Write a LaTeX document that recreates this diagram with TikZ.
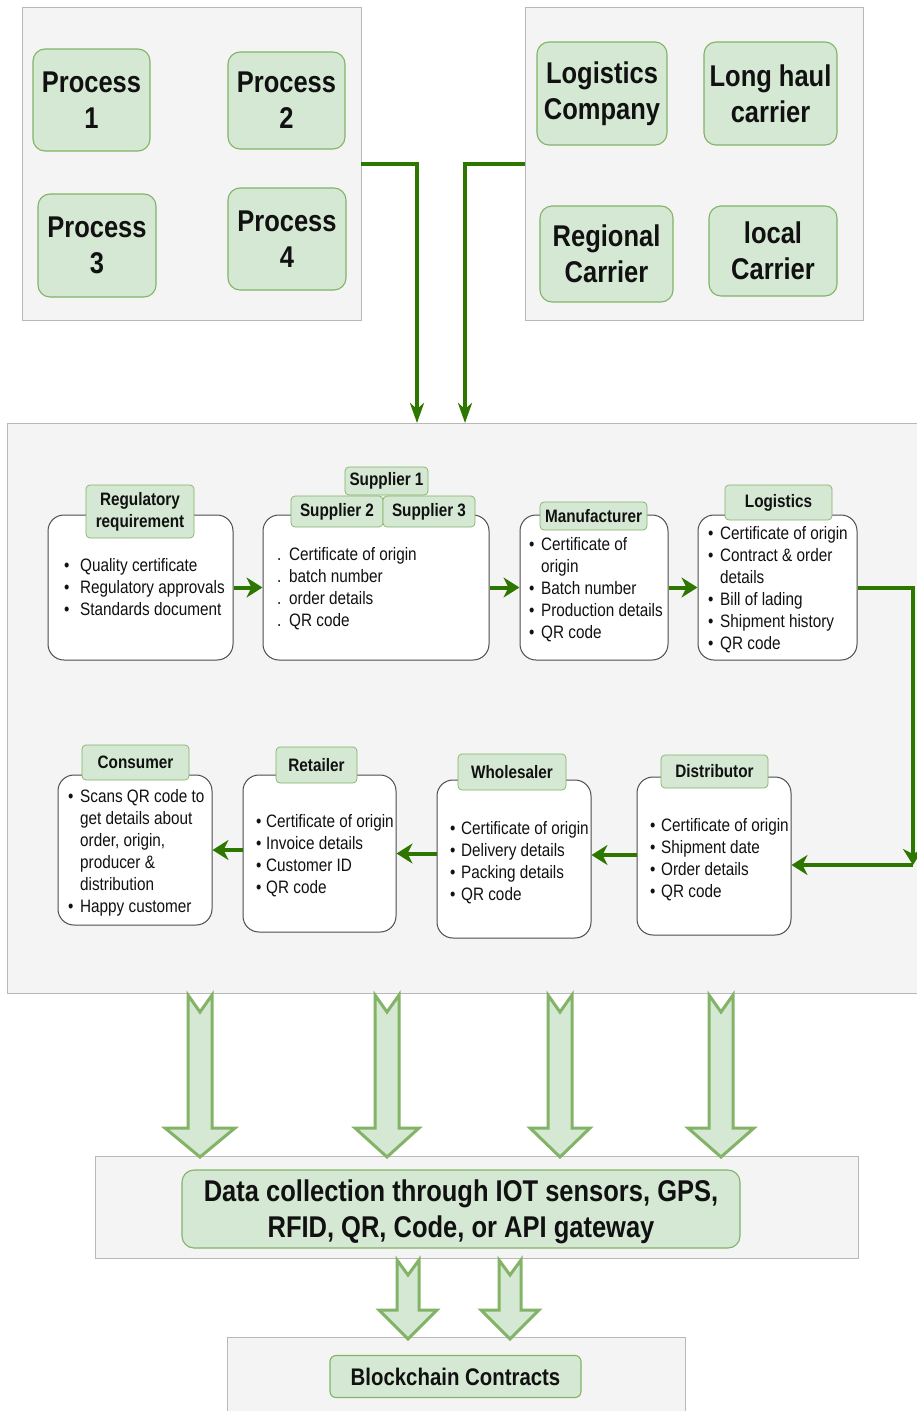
\documentclass[tikz,border=0pt]{standalone}
\usepackage{fontspec}
\setmainfont{Liberation Sans}[FakeStretch=0.85]
\usetikzlibrary{arrows.meta,calc}
\definecolor{gfill}{HTML}{D5E8D4}
\definecolor{gline}{HTML}{82B366}
\definecolor{dgreen}{HTML}{2D7600}
\definecolor{pfill}{HTML}{F4F4F4}
\definecolor{pline}{HTML}{B8B8B8}
\definecolor{txt}{HTML}{111111}
\newcommand{\blist}[2]{\begin{tabular}[t]{@{}l@{\hspace{#1}}l@{}}#2\end{tabular}}
\newcommand{\hollowarrow}[7]{%
  \draw[harrow] (#1-#6,#2) -- (#1,#2+#3) -- (#1+#6,#2) -- (#1+#6,#4) -- (#1+#7,#4)
    -- (#1,#5) -- (#1-#7,#4) -- (#1-#6,#4) -- cycle;}
\begin{document}
\begin{tikzpicture}[x=1pt,y=-1pt,
  panel/.style={draw=pline,fill=pfill,line width=0.8pt,inner sep=0pt},
  gbox/.style={draw=gline,fill=gfill,line width=1.1pt,rounded corners=12pt,align=center,text=txt,inner sep=0pt},
  bigtxt/.style={font=\fontsize{30}{36}\selectfont\bfseries},
  wbox/.style={draw=black!70,fill=white,line width=1pt,rounded corners=16pt,inner sep=0pt},
  tab/.style={draw=gline,fill=gfill,line width=0.7pt,rounded corners=4pt,align=center,inner sep=0pt,font=\fontsize{18}{22}\selectfont\bfseries,text=txt},
  lst/.style={anchor=base west,inner sep=0pt,font=\fontsize{18}{22}\selectfont,text=txt},
  flow/.style={draw=dgreen,line width=4pt,-{Stealth[length=16pt,width=20pt,inset=5pt]}},
  feed/.style={draw=dgreen,line width=4pt,-{Stealth[length=20pt,width=14pt,inset=6pt]}},
  harrow/.style={draw=gline,fill=gfill,line width=3pt,line join=miter},
]
\useasboundingbox (0,0) rectangle (917,1411);

% ---------- top panels ----------
\node[panel,minimum width=339pt,minimum height=313pt] (lp) at (191.5,163.5) {};
\node[panel,minimum width=338pt,minimum height=313pt] (rp) at (694,163.5) {};

\node[gbox,bigtxt,minimum width=117pt,minimum height=102pt] (p1) at (91.5,100) {Process\\1};
\node[gbox,bigtxt,minimum width=117pt,minimum height=97pt] (p2) at (286.5,100.5) {Process\\2};
\node[gbox,bigtxt,minimum width=118pt,minimum height=103pt] (p3) at (97,245.5) {Process\\3};
\node[gbox,bigtxt,minimum width=118pt,minimum height=102pt] (p4) at (287,239) {Process\\4};

\node[gbox,bigtxt,minimum width=130pt,minimum height=103pt,text depth=5pt] (lc) at (602,93.5) {Logistics\\Company};
\node[gbox,bigtxt,minimum width=133pt,minimum height=103pt] (lh) at (770.5,93.5) {Long haul\\carrier};
\node[gbox,bigtxt,minimum width=133pt,minimum height=96pt] (rc) at (606.5,254) {Regional\\Carrier};
\node[gbox,bigtxt,minimum width=128pt,minimum height=90pt] (lcc) at (773,251) {local\\Carrier};

% ---------- middle panel ----------
\node[panel,minimum width=914pt,minimum height=570pt] (mid) at (464,708) {};
\coordinate (c1) at (417,423);
\coordinate (c2) at (465,423);
\draw[feed] (lp.east) -| (c1);
\draw[feed] (rp.west) -| (c2);

% row 1 boxes
\node[wbox,minimum width=185pt,minimum height=145pt] (reg) at (140.5,587.5) {};
\node[wbox,minimum width=226pt,minimum height=145pt] (sup) at (376,587.5) {};
\node[wbox,minimum width=148pt,minimum height=145pt] (man) at (594,587.5) {};
\node[wbox,minimum width=159pt,minimum height=145pt] (log) at (777.5,587.5) {};

\node[tab,minimum width=108pt,minimum height=53pt] (reglab) at (140,511.5) {Regulatory\\requirement};
\node[tab,minimum width=83pt,minimum height=28pt] (sup1) at (386.5,481) {Supplier 1};
\node[tab,minimum width=92pt,minimum height=31pt] (sup2) at (337,511.5) {Supplier 2};
\node[tab,minimum width=92pt,minimum height=31pt] (sup3) at (429,511.5) {Supplier 3};
\node[tab,minimum width=107pt,minimum height=28pt] (manlab) at (593.5,516) {Manufacturer};
\node[tab,minimum width=107pt,minimum height=35pt] (loglab) at (778.5,502.5) {Logistics};

\node[lst] (regl) at (64,571) {\blist{10.6pt}{• & Quality certificate\\ • & Regulatory approvals\\ • & Standards document}};
\node[lst] (supl) at (277,560) {\blist{7.7pt}{. & Certificate of origin\\ . & batch number\\ . & order details\\ . & QR code}};
\node[lst] (manl) at (529,550) {\blist{6.6pt}{• & Certificate of\\ & origin\\ • & Batch number\\ • & Production details\\ • & QR code}};
\node[lst] (logl) at (708,539) {\blist{6.6pt}{• & Certificate of origin\\ • & Contract \& order\\ & details\\ • & Bill of lading\\ • & Shipment history\\ • & QR code}};

% row 2 boxes
\node[wbox,minimum width=154pt,minimum height=150pt] (con) at (135,850) {};
\node[wbox,minimum width=153pt,minimum height=157pt] (ret) at (319.5,853.5) {};
\node[wbox,minimum width=154pt,minimum height=158pt] (who) at (514,859) {};
\node[wbox,minimum width=154pt,minimum height=158pt] (dis) at (714,856) {};

\node[tab,minimum width=107pt,minimum height=35pt] (conlab) at (135.5,762.5) {Consumer};
\node[tab,minimum width=81pt,minimum height=36pt] (retlab) at (316.5,765) {Retailer};
\node[tab,minimum width=108pt,minimum height=36pt] (wholab) at (512,772) {Wholesaler};
\node[tab,minimum width=107pt,minimum height=33pt] (dislab) at (714.5,771.5) {Distributor};

\node[lst] (conl) at (68,802) {\blist{6.6pt}{• & Scans QR code to\\ & get details about\\ & order, origin,\\ & producer \&\\ & distribution\\ • & Happy customer}};
\node[lst] (retl) at (256,827) {\blist{4.6pt}{• & Certificate of origin\\ • & Invoice details\\ • & Customer ID\\ • & QR code}};
\node[lst] (whol) at (450,834) {\blist{5.6pt}{• & Certificate of origin\\ • & Delivery details\\ • & Packing details\\ • & QR code}};
\node[lst] (disl) at (650,831) {\blist{5.6pt}{• & Certificate of origin\\ • & Shipment date\\ • & Order details\\ • & QR code}};

% flow arrows
\draw[flow] (reg.east) -- (sup.west);
\draw[flow] (sup.east) -- (man.west);
\draw[flow] (man.east) -- (log.west);
\coordinate (cr) at (913,865);
\draw[flow] (log.east) -| (cr);
\draw[flow] (cr) -- (cr -| dis.east);
\draw[flow] ($(dis.west)+(0,-1)$) -- ($(dis.west -| who.east)+(0,-1)$);
\draw[flow] (who.west |- ret.east) -- (ret.east);
\draw[flow] (ret.west |- con.east) -- (con.east);

% ---------- data collection ----------
\node[panel,minimum width=763pt,minimum height=102pt] (dp) at (476.5,1207) {};
\node[gbox,bigtxt,minimum width=558pt,minimum height=78pt,text depth=0pt] (data) at (461,1209) {Data collection through IOT sensors, GPS,\\RFID, QR, Code, or API gateway};

% ---------- blockchain ----------
\node[panel,minimum width=458pt,minimum height=80pt] (bp) at (456,1377) {};
\node[gbox,rounded corners=6pt,minimum width=251pt,minimum height=42pt,font=\fontsize{24}{28}\selectfont\bfseries] (bc) at (455.5,1376.5) {Blockchain Contracts};

% hollow arrows
\hollowarrow{200}{995}{17}{1128}{1157}{12}{35}
\hollowarrow{387}{995}{17}{1128}{1157}{12}{32}
\hollowarrow{560}{995}{17}{1128}{1157}{12}{30}
\hollowarrow{721}{995}{17}{1128}{1157}{12}{33}
\hollowarrow{408}{1260}{15}{1310}{1339}{11}{29}
\hollowarrow{510}{1260}{15}{1310}{1339}{11}{29}
\end{tikzpicture}
\end{document}
